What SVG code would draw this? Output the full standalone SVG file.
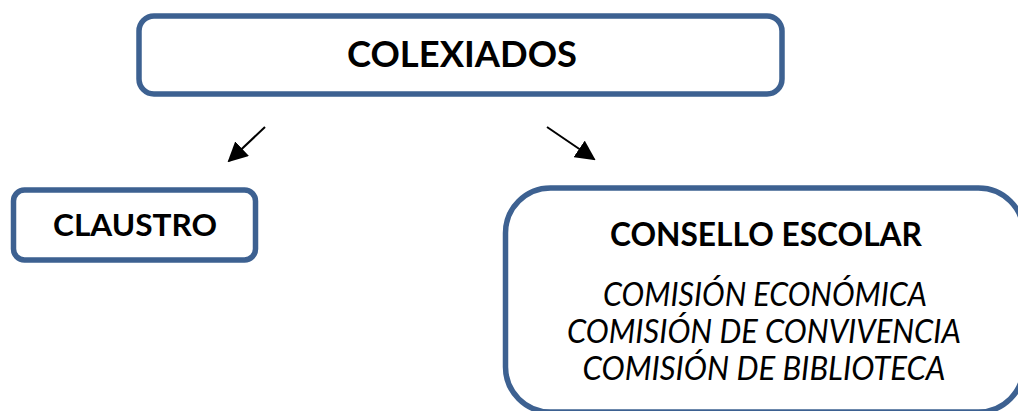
<svg xmlns="http://www.w3.org/2000/svg" width="1018" height="411" viewBox="0 0 1018 411">
<style>
.box{fill:#fff;stroke:#3D6191;stroke-width:5.5}
.b{font-family:Lato,"Open Sans",sans-serif;font-weight:bold;fill:#000;text-anchor:middle}
.i{font-family:Lato,"Open Sans",sans-serif;font-style:italic;fill:#000;text-anchor:middle;font-size:33px}
.c{stroke:#000;stroke-width:2;fill:none}
</style>
<defs>
<marker id="ah2" viewBox="0 0 10 10" refX="9" refY="5" markerWidth="10" markerHeight="10" orient="auto">
<path d="M0,0 L10,5 L0,10 z" fill="#000"/>
</marker>
</defs>
<rect width="1018" height="411" fill="#fff"/>
<g id="connectors">
<line class="c" x1="265" y1="127" x2="229" y2="161" marker-end="url(#ah2)"/>
<line class="c" x1="547" y1="127" x2="594" y2="159" marker-end="url(#ah2)"/>
</g>
<g id="colexiados">
<rect class="box" x="139" y="16" width="643" height="78" rx="15"/>
<text class="b" x="462" y="67" font-size="37" textLength="230" lengthAdjust="spacingAndGlyphs">COLEXIADOS</text>
</g>
<g id="claustro">
<rect class="box" x="13.5" y="190" width="242" height="70" rx="11"/>
<text class="b" x="135" y="236" font-size="31" textLength="164" lengthAdjust="spacingAndGlyphs">CLAUSTRO</text>
</g>
<g id="consello">
<rect class="box" x="505.5" y="188" width="518" height="224" rx="45"/>
<text class="b" x="766" y="246" font-size="32" textLength="312" lengthAdjust="spacingAndGlyphs">CONSELLO ESCOLAR</text>
<text class="i" x="765" y="306" textLength="324" lengthAdjust="spacingAndGlyphs">COMISIÓN ECONÓMICA</text>
<text class="i" x="764" y="343" textLength="394" lengthAdjust="spacingAndGlyphs">COMISIÓN DE CONVIVENCIA</text>
<text class="i" x="764" y="380" textLength="363" lengthAdjust="spacingAndGlyphs">COMISIÓN DE BIBLIOTECA</text>
</g>
</svg>
